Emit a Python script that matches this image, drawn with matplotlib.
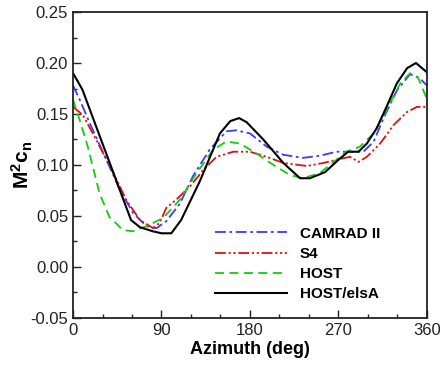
import matplotlib
matplotlib.use("Agg")
import matplotlib.pyplot as plt
from matplotlib.ticker import MultipleLocator

plt.rcParams['font.family'] = ['Liberation Sans', 'DejaVu Sans']
plt.rcParams['mathtext.fontset'] = 'custom'
plt.rcParams['mathtext.rm'] = 'Liberation Sans'
plt.rcParams['mathtext.bf'] = 'Liberation Sans:bold'
plt.rcParams['mathtext.it'] = 'Liberation Sans:italic'

# HOST/elsA
elsa_az = [0, 9.5, 59, 68, 81, 90, 100, 110, 129, 149.5, 160, 169, 176.6, 193.6, 214, 231, 241, 256.5, 270, 280, 290.5, 299, 309, 319, 329.5, 340, 349, 360]
elsa_v = [0.190, 0.174, 0.046, 0.039, 0.035, 0.033, 0.033, 0.046, 0.084, 0.131, 0.143, 0.146, 0.142, 0.125, 0.102, 0.087, 0.087, 0.093, 0.105, 0.113, 0.113, 0.121, 0.136, 0.157, 0.180, 0.195, 0.200, 0.191]

# CAMRAD II
cam_az = [0, 6.8, 17, 34, 47.5, 61, 74.7, 85, 95, 108.7, 122, 139, 156, 166, 180, 197, 214, 234, 251, 268, 282, 295.5, 306, 316, 329.5, 343, 353, 360]
cam_v = [0.178, 0.164, 0.141, 0.105, 0.076, 0.053, 0.040, 0.038, 0.045, 0.062, 0.089, 0.115, 0.133, 0.134, 0.131, 0.118, 0.110, 0.107, 0.109, 0.113, 0.113, 0.113, 0.123, 0.146, 0.173, 0.189, 0.185, 0.178]

# S4
s4_az = [0, 10, 24, 41, 54, 68, 81.5, 88, 95, 105, 119, 132.5, 146, 163, 180, 197, 214, 238, 255, 272, 282, 290.5, 299, 312.5, 326, 340, 350, 360]
s4_v = [0.157, 0.149, 0.124, 0.092, 0.066, 0.046, 0.038, 0.043, 0.058, 0.066, 0.079, 0.095, 0.108, 0.113, 0.113, 0.108, 0.102, 0.099, 0.102, 0.106, 0.108, 0.103, 0.108, 0.121, 0.139, 0.152, 0.157, 0.157]

# HOST
host_az = [0, 6.8, 15, 27, 37, 51, 61, 74.7, 91.7, 108.7, 125.7, 142.7, 156, 170, 187, 204, 221, 234, 251, 268, 278, 292, 306, 319, 333, 343, 351, 360]
host_v = [0.164, 0.144, 0.118, 0.072, 0.049, 0.036, 0.035, 0.040, 0.048, 0.066, 0.092, 0.115, 0.123, 0.121, 0.111, 0.100, 0.090, 0.087, 0.092, 0.105, 0.113, 0.118, 0.131, 0.154, 0.180, 0.190, 0.186, 0.165]

x_ticks = [0, 90, 180, 270, 360]
y_ticks = [-0.05, 0.00, 0.05, 0.10, 0.15, 0.20, 0.25]

fig = plt.figure(figsize=(4.4, 3.65), dpi=100)
ax = fig.add_axes([0.166, 0.129, 0.804, 0.838])

ax.plot(cam_az, cam_v, color='#3a3aff', lw=1.3, dashes=[6, 2, 1.5, 2], label='CAMRAD II')
ax.plot(s4_az, s4_v, color='#dd1111', lw=1.3, dashes=[6, 1.5, 1.2, 1.5, 1.2, 1.5], label='S4')
ax.plot(host_az, host_v, color='#11cc11', lw=1.3, dashes=[5, 3], label='HOST')
ax.plot(elsa_az, elsa_v, color='black', lw=1.5, label='HOST/elsA')

ax.set_xlim(0, 360)
ax.set_ylim(-0.05, 0.25)
ax.set_xticks(x_ticks)
ax.set_yticks(y_ticks)
ax.set_yticklabels([f"{v:.2f}" for v in y_ticks])
ax.xaxis.set_minor_locator(MultipleLocator(30))
ax.yaxis.set_minor_locator(MultipleLocator(0.025))
ax.tick_params(which='both', direction='in', top=False, right=False, labelsize=12,
               width=1, labelcolor='#222222', color='#222222')
ax.tick_params(which='major', length=6)
ax.tick_params(which='minor', length=3)
for s in ax.spines.values():
    s.set_linewidth(1.3)
    s.set_color('#222222')

ax.set_xlabel('Azimuth (deg)', fontsize=13, fontweight='bold', labelpad=2)
ax.set_ylabel(r'$\mathbf{M^2c_n}$', fontsize=15)
ax.yaxis.set_label_coords(-0.108, 0.5)

leg = ax.legend(loc='upper left', bbox_to_anchor=(0.401, 0.298), frameon=False,
                borderpad=0, borderaxespad=0, handlelength=4.7, handletextpad=0.85,
                labelspacing=0.4, prop={'weight': 'bold', 'size': 11})

fig.savefig('out.png', dpi=100)
